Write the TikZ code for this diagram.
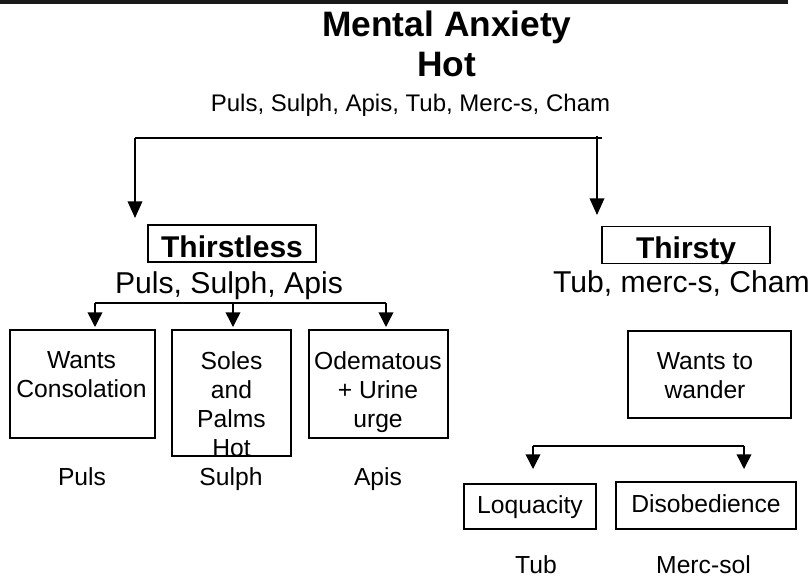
\documentclass[tikz,border=0pt]{standalone}
\usepackage{fontspec}
\setmainfont{Liberation Sans}
\usepackage{xcolor}
\usetikzlibrary{arrows.meta}

\begin{document}
\begin{tikzpicture}[
x=0.75pt, y=-0.75pt,
>={Triangle[length=11pt,width=11pt]},
line width=1.1pt,
every node/.style={inner sep=0pt},
bigbold/.style={font=\fontsize{26.5}{30}\selectfont\bfseries, anchor=base},
listtext/.style={font=\fontsize{18}{21}\selectfont, anchor=base},
subhead/.style={font=\fontsize{22.6}{26}\selectfont, anchor=base},
remedy/.style={font=\fontsize{18.5}{21.75}\selectfont, anchor=base},
headbox/.style={draw, font=\fontsize{22.5}{26}\selectfont\bfseries, minimum width=126pt, minimum height=27.5pt, text height=22pt, text depth=1.75pt},
boxtext/.style={font=\fontsize{18.5}{21.75}\selectfont, align=center, anchor=north},
flatbox/.style={draw, font=\fontsize{18.5}{21.75}\selectfont, minimum height=34pt, text height=13.5pt, text depth=3.75pt}
]
\useasboundingbox (0,0) rectangle (812,581);

% top rule
\fill[black!90] (0,0) rectangle (788,4);

% Title
\node[bigbold] (title) at (447,37) {Mental Anxiety};
\node[bigbold] (hot) at (446.5,77) {Hot};
\node[listtext] (all) at (410.5,112) {Puls, Sulph, Apis, Tub, Merc-s, Cham};

% Main split
\coordinate (splitL) at (135,138);
\coordinate (splitR) at (602,138);
\coordinate (dropR) at (597,136);
\coordinate (tipL) at (135,218);
\coordinate (tipR) at (597,215);
\draw (splitL) -- (splitR);
\draw[-{Triangle[length=12.5pt,width=11pt]}] (splitL) -- (tipL);
\draw[-{Triangle[length=12.5pt,width=11pt]}] (dropR) -- (tipR);

% Thirstless / Thirsty
\node[headbox] (thirstless) at (232,243.5) {Thirstless};
\node[headbox] (thirsty) at (686,245) {Thirsty};
\node[subhead] (lessRem) at (229,293) {Puls, Sulph, Apis};
\node[subhead] (thirstyRem) at (681.5,292) {Tub, merc-s, Cham};

% Thirstless branches
\coordinate (subL) at (95,303);
\coordinate (subM) at (233,303);
\coordinate (subR) at (386,303);
\draw (subL) -- (subR);
\coordinate (tipCons) at (95,327);
\coordinate (tipSoles) at (233,327);
\coordinate (tipOdema) at (386,327);
\draw[->] (subL) -- (tipCons);
\draw[->] (subM) -- (tipSoles);
\draw[->] (subR) -- (tipOdema);

% Thirstless boxes
\node[draw, minimum width=108.75pt, minimum height=81pt] (consBox) at (82.5,384) {};
\node[boxtext] (consTxt) at (81.5,351) {Wants\\Consolation};
\node[draw, minimum width=89.25pt, minimum height=94.5pt] (solesBox) at (231.5,393) {};
\node[boxtext] (solesTxt) at (231.5,351) {Soles\\and\\Palms\\Hot};
\node[draw, minimum width=104.25pt, minimum height=81pt] (odemaBox) at (378.5,384) {};
\node[boxtext] (odemaTxt) at (378,351) {Odematous\\+ Urine\\urge};

\node[remedy] (puls) at (82,485) {Puls};
\node[remedy] (sulph) at (231,485) {Sulph};
\node[remedy] (apis) at (378,485) {Apis};

% Thirsty side
\node[draw, minimum width=122.25pt, minimum height=65.25pt] (wanderBox) at (709.5,374.5) {};
\node[boxtext] (wanderTxt) at (705,352) {Wants to\\wander};

\coordinate (splitLoq) at (533,446);
\coordinate (splitDis) at (744,446);
\coordinate (tipLoq) at (533,469);
\coordinate (tipDis) at (744,469);
\draw (splitLoq) -- (splitDis);
\draw[->] (splitLoq) -- (tipLoq);
\draw[->] (splitDis) -- (tipDis);

\node[flatbox, minimum width=99pt] (loq) at (530,506.5) {Loquacity};
\node[flatbox, minimum width=135pt, minimum height=35.25pt] (dis) at (706,505.5) {Disobedience};

\node[remedy] (tub) at (536,573) {Tub};
\node[remedy] (mercsol) at (703.5,573) {Merc-sol};

\end{tikzpicture}
\end{document}
